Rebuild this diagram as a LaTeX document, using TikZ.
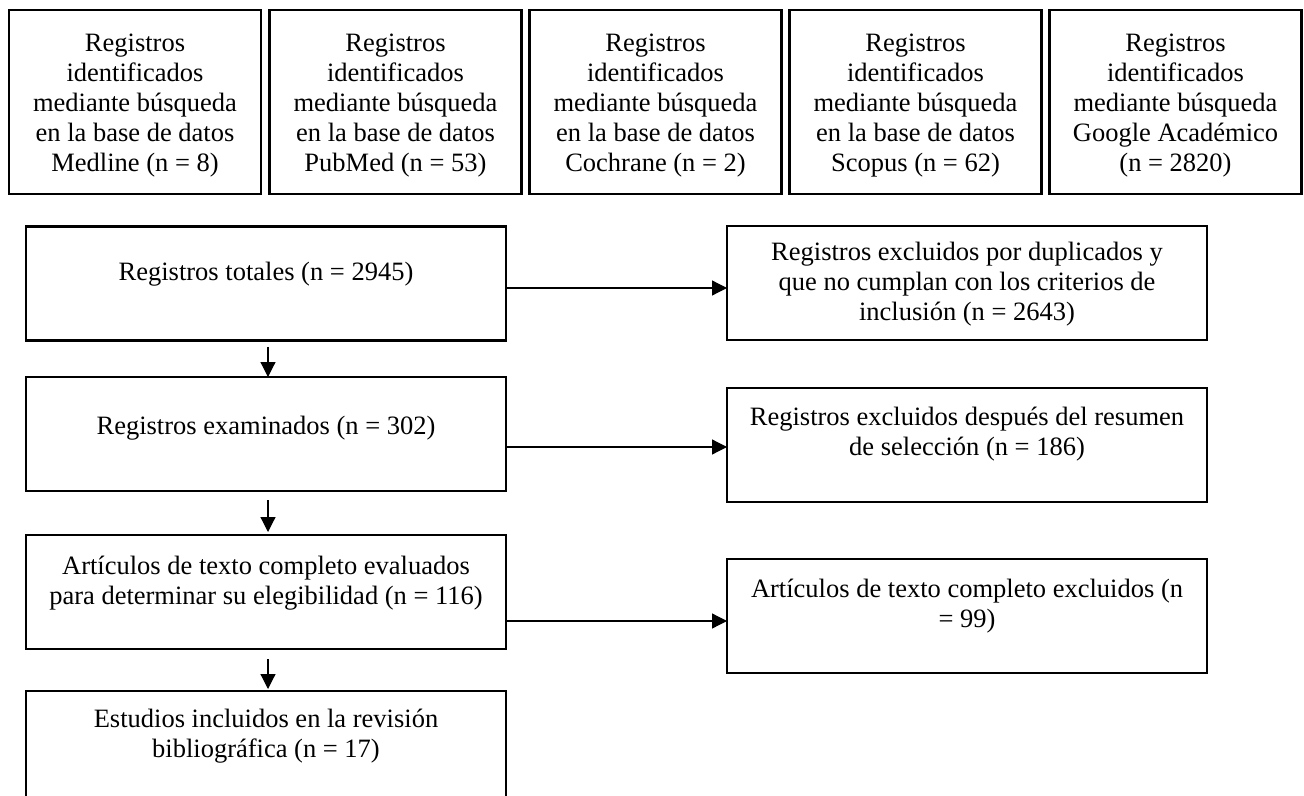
\documentclass[tikz,border=0pt]{standalone}
\usepackage{fontspec}
\setmainfont{Liberation Serif}
\usetikzlibrary{positioning, arrows.meta}

\tikzset{
  caja/.style = {draw, rectangle, line width = 1.2pt, inner sep = 0pt, outer sep = 0pt},
  texto/.style = {align = center, inner sep = 0pt, font = \fontsize{13.25pt}{15pt}\selectfont, execute at begin node = \strut},
  flecha/.style = {-{Triangle[length = 7.5pt, width = 7.5pt]}, line width = .6pt}
}

\begin{document}
\begin{tikzpicture}[x = .5pt, y = -.5pt]
  \useasboundingbox (0, 0) rectangle (1304, 796);
  \clip (0, 0) rectangle (1304, 796);

  %%fuentes
  \node[caja, minimum width = 126pt, minimum height = 92pt] (medline) at (135, 102) {};
  \node[caja, minimum width = 126pt, minimum height = 92pt] (pubmed) at (395.5, 102) {};
  \node[caja, minimum width = 126pt, minimum height = 92pt] (cochrane) at (655.5, 102) {};
  \node[caja, minimum width = 126pt, minimum height = 92pt] (scopus) at (915.5, 102) {};
  \node[caja, minimum width = 126pt, minimum height = 92pt] (google) at (1175.5, 102) {};

    \node[texto, below = 12pt of medline.north] (medlineT) {Registros\\identificados\\mediante búsqueda\\en la base de datos\\Medline (n = 8)};
    \node[texto, below = 12pt of pubmed.north] (pubmedT) {Registros\\identificados\\mediante búsqueda\\en la base de datos\\PubMed (n = 53)};
    \node[texto, below = 12pt of cochrane.north] (cochraneT) {Registros\\identificados\\mediante búsqueda\\en la base de datos\\Cochrane (n = 2)};
    \node[texto, below = 12pt of scopus.north] (scopusT) {Registros\\identificados\\mediante búsqueda\\en la base de datos\\Scopus (n = 62)};
    \node[texto, below = 12pt of google.north] (googleT) {Registros\\identificados\\mediante búsqueda\\Google Académico\\(n = 2820)};

  %%columna
  \node[caja, minimum width = 240pt, minimum height = 57pt] (tot) at (266, 283.5) {};
    \node[texto, below = 16.5pt of tot.north] (totT) {Registros totales (n = 2945)};
  \node[caja, minimum width = 240pt, minimum height = 57pt] (exa) at (266, 434) {};
    \node[texto, below = 18pt of exa.north] (exaT) {Registros examinados (n = 302)};
  \node[caja, minimum width = 240pt, minimum height = 57pt] (art) at (266, 592) {};
    \node[texto, below = 10.5pt of art.north] (artT) {Artículos de texto completo evaluados\\para determinar su elegibilidad (n = 116)};
  \node[caja, minimum width = 240pt, minimum height = 57pt] (est) at (266, 748) {};
    \node[texto, below = 9pt of est.north] (estT) {Estudios incluidos en la revisión\\bibliográfica (n = 17)};

  %%excluidos
  \node[caja, minimum width = 240pt, minimum height = 57pt] (dup) at (967, 283) {};
    \node[texto, below = 8pt of dup.north] (dupT) {Registros excluidos por duplicados y\\que no cumplan con los criterios de\\inclusión (n = 2643)};
  \node[caja, minimum width = 240pt, minimum height = 57pt] (res) at (967, 445) {};
    \node[texto, below = 9.5pt of res.north] (resT) {Registros excluidos después del resumen\\de selección (n = 186)};
  \node[caja, minimum width = 240pt, minimum height = 57pt] (exc) at (967, 616) {};
    \node[texto, below = 10pt of exc.north] (excT) {Artículos de texto completo excluidos (n\\= 99)};

  %%flechas
  \draw[flecha] ([xshift = 1pt, yshift = -3pt]tot.south) to ([xshift = 1pt]exa.north);
  \draw[flecha] ([xshift = 1pt, yshift = -4.5pt]exa.south) to ([xshift = 1pt, yshift = 1.5pt]art.north);
  \draw[flecha] ([xshift = 1pt, yshift = -5pt]art.south) to ([xshift = 1pt, yshift = 1pt]est.north);

  \coordinate (dupE) at ([yshift = -2.5pt]dup.west);
  \coordinate (resE) at ([yshift = -1pt]res.west);
  \coordinate (excE) at ([yshift = -2.5pt]exc.west);
  \draw[flecha] (tot.east |- dupE) to (dupE);
  \draw[flecha] (exa.east |- resE) to (resE);
  \draw[flecha] (art.east |- excE) to (excE);

\end{tikzpicture}
\end{document}
